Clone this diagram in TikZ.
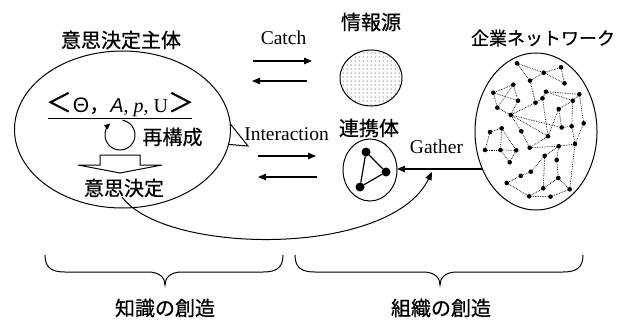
\documentclass[tikz,border=0pt]{standalone}
\usepackage{fontspec}
\setmainfont{Liberation Serif}
\newfontfamily\cjk[FakeBold=0.7]{Noto Sans CJK JP}
\newfontfamily\lsans{Liberation Sans}
\usetikzlibrary{shapes.geometric,arrows.meta}

\begin{document}
\begin{tikzpicture}[x=1pt,y=-1pt,
  every node/.style={inner sep=0pt, outer sep=0pt},
  jp/.style={font=\cjk\fontsize{20}{20}\selectfont},
  en/.style={font=\fontsize{19.5}{20}\selectfont, anchor=base},
  oval/.style={draw, ellipse, line width=1pt, inner sep=0pt},
  arr/.style={line width=1.2pt, -{Triangle[length=8pt,width=6.5pt]}},
  nd/.style={circle, fill, inner sep=0pt, minimum size=4.6pt},
  bignd/.style={circle, fill, inner sep=0pt, minimum size=9pt},
  netline/.style={densely dotted, line width=0.7pt},
  bracepath/.style={line width=1pt}]

\useasboundingbox (0,0) rectangle (623,321);

% ---- decision-making entity ----
\node[oval, minimum width=216pt, minimum height=157pt] (ent) at (122.5,129.5) {};
\node[jp] (enttitle) at (121,40) {意思決定主体};
\coordinate (tailtip) at (248,146);
\draw[line width=1pt] (ent.3.5) -- (tailtip) -- (ent.-8.9);

\node[anchor=base, font=\fontsize{20}{20}\selectfont] (tuple) at (120,112)
  {{\cjk\fontsize{26}{26}\selectfont ＜}\hspace{1pt}{\lsans\fontsize{21}{21}\selectfont Θ}{\cjk ，}\hspace{1pt}{\lsans\itshape A}, \textit{p}, U{\cjk\fontsize{26}{26}\selectfont ＞}};
\coordinate (barl) at (48,118);
\coordinate (barr) at (192,118);
\draw[line width=0.9pt] (barl) -- (barr);

\coordinate (cyc) at (120,135);
\draw[line width=1pt, -{Triangle[length=6pt,width=5pt]}]
  ([shift={(-80:15)}]cyc) arc[start angle=-80, end angle=230, radius=15];
\node[jp] (recon) at (172.5,137) {再構成};

\draw[line width=1pt] (100,155) -- (140,155) -- (140,165) -- (162,165) -- (120,173)
  -- (78,165) -- (100,165) -- cycle;
\node[jp] (dec) at (124,188) {意思決定};

% ---- Catch / Interaction arrows ----
\node[en] (catch) at (283.5,45) {Catch};
\coordinate (c1a) at (253,61);  \coordinate (c1b) at (312,61);
\coordinate (c2a) at (307,81);  \coordinate (c2b) at (252,81);
\draw[arr] (c1a) -- (c1b);
\draw[arr] (c2a) -- (c2b);

\node[en] (inter) at (286.5,140) {Interaction};
\coordinate (i1a) at (258,156);  \coordinate (i1b) at (316,156);
\coordinate (i2a) at (317,177);  \coordinate (i2b) at (258,177);
\draw[arr] (i1a) -- (i1b);
\draw[arr] (i2a) -- (i2b);

% ---- information source ----
\node[jp] (infotitle) at (371,22) {情報源};
\begin{scope}
  \clip (371,78) ellipse [x radius=31, y radius=28];
  \foreach \i in {0,...,16}
    \foreach \j in {0,...,15}
      \fill (339+\i*4, 49+\j*4) circle[radius=0.5pt];
\end{scope}
\node[oval, minimum width=62pt, minimum height=56pt] (info) at (371,78) {};

% ---- team ----
\node[jp] (teamtitle) at (369,128) {連携体};
\node[oval, minimum width=54pt, minimum height=62pt] (team) at (370,170) {};
\node[bignd] (t1) at (366,152) {};
\node[bignd] (t2) at (386,172) {};
\node[bignd] (t3) at (360,187) {};
\draw[line width=1.2pt] (t1) -- (t2) -- (t3) -- (t1);

% ---- enterprise network ----
\node[jp, font=\cjk\fontsize{18}{18}\selectfont] (nettitle) at (543,38) {企業ネットワーク};
\node[oval, minimum width=122pt, minimum height=157pt] (net) at (536,131.5) {};
\foreach \n/\x/\y in {a/517/63.3, b/543.7/72.7, c/561/67.3, d/564.5/83.3, e/530/80.7,
  f/513.3/84.7, g/493.3/92.7, h/518/100.7, i/546/91.7, j/542.5/98.3, k/535.5/102.7,
  l/579.3/94.3, m/572.7/100.7, n/497.3/107.7, o/558.7/109, p/510.7/115, q/583.7/123.3,
  r/501.7/128.3, s/561.7/127.5, t/571.7/126.3, u/548/136.2, v/490/132, w/485/150,
  x/500.5/150, y/516.2/150.3, z/509.7/162.3, s2/521.3/131.3, aa/529.7/147.7,
  bb/558.7/146.2, cc/575/144, dd/544.7/155.8, ee/556.7/160, ff/530.8/171.7,
  gg/520.8/175.8, hh/506.7/183, ii/558.3/178, jj/543.3/188.3, kk/569.7/189.3,
  ll/529.2/196.3, mm/550.5/196.7}
  \node[nd] (N\n) at (\x,\y) {};
\foreach \p/\q in {a/b, b/c, c/d, b/d, a/e, e/b, e/k, f/g, g/h, f/h, f/n, g/n, n/p, h/p,
  i/l, i/m, l/m, l/q, m/t, i/j, j/k, o/m, k/p, p/u, p/s, s2/p, j/u, o/u, o/s, s/t,
  r/v, v/w, w/x, x/y, y/z, r/y, r/x, s2/aa, aa/bb, bb/cc, cc/t, u/aa, cc/q,
  dd/ff, ff/gg, gg/hh, ee/ii, ii/jj, jj/ll, ll/mm, mm/kk, kk/cc, kk/ii, dd/jj,
  ee/bb, dd/bb, hh/ll, z/x}
  \draw[netline] (N\p) -- (N\q);

% ---- Gather ----
\node[en] (gather) at (436.5,153) {Gather};
\draw[arr] (net.215.7) -- (net.215.7 -| team.east);

% ---- feedback curve ----
\coordinate (cs) at (122,197);
\coordinate (ce) at (432,172);
\draw[arr, line width=1pt] (cs) .. controls (165,255) and (390,258) .. (ce);

% ---- braces ----
\draw[bracepath] (45,255) .. controls (45,268) and (52,272) .. (65,272) -- (148,272)
  .. controls (160,272) and (165,278) .. (165,285)
  .. controls (165,278) and (170,272) .. (182,272) -- (263,272)
  .. controls (276,272) and (283,268) .. (283,255);
\draw[bracepath] (295,255) .. controls (295,268) and (302,272) .. (315,272) -- (423,272)
  .. controls (435,272) and (440,278) .. (440,285)
  .. controls (440,278) and (445,272) .. (457,272) -- (563,272)
  .. controls (576,272) and (583,268) .. (583,255);
\node[jp] (know) at (165,308) {知識の創造};
\node[jp] (org) at (441,308) {組織の創造};
\end{tikzpicture}
\end{document}
